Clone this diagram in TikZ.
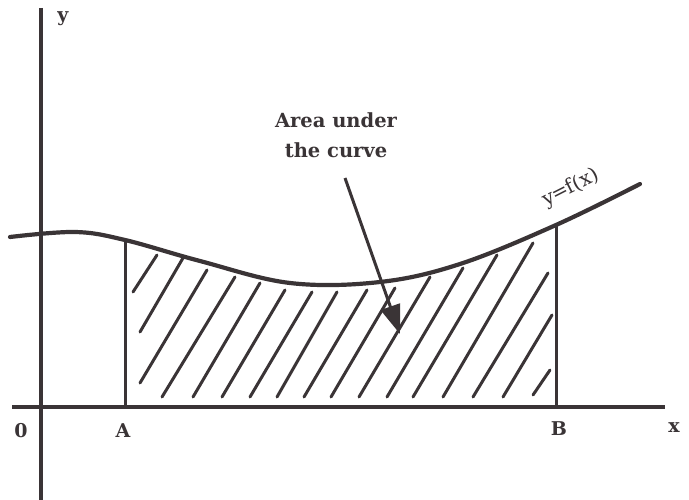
\documentclass[tikz,border=0pt]{standalone}
\usepackage{fontspec}
\setmainfont{DejaVu Serif}
\usetikzlibrary{arrows.meta}
\definecolor{ink}{RGB}{58,52,54}
\begin{document}
\begin{tikzpicture}[x=1pt,y=-1pt,
  axisline/.style={draw=ink,line width=3.4pt},
  curveline/.style={draw=ink,line width=4.2pt,line cap=round},
  hatchline/.style={draw=ink,line width=3pt,line cap=round},
  boundline/.style={draw=ink,line width=3pt},
  lab/.style={text=ink,font=\fontsize{19}{22}\selectfont\bfseries,inner sep=0pt,anchor=base},
  caption/.style={text=ink,font=\fontsize{19.5}{30}\selectfont\bfseries,inner sep=0pt,anchor=base},
  pointer/.style={draw=ink,line width=3pt,-{Triangle[length=29pt,width=20pt]}}
  ]
\useasboundingbox (0,0) rectangle (689,500);
% axes
\coordinate (ytop) at (41,8);
\coordinate (ybot) at (41,500);
\coordinate (xl) at (12,407);
\coordinate (xr) at (665,407);
\draw[axisline] (ytop) -- (ybot);
\draw[axisline] (xl) -- (xr);
% hatching
\foreach \ax/\ay/\bx/\by in {
  133/292/157/255, 140/332/183/258, 140/383/207/270,
  162/397/235/277, 193/397/260/283, 222/397/285/290,
  250/397/312/292, 277/397/337/292, 304/397/367/290,
  331/397/395/288, 359/397/430/277, 387/397/463/268,
  413/397/497/255, 443/397/533/243, 473/397/548/273,
  503/397/552/315, 533/395/550/370}{
  \draw[hatchline] (\ax,\ay) -- (\bx,\by);
}
% bounds A and B
\coordinate (atop) at (125,240);
\coordinate (abot) at (125,405);
\coordinate (btop) at (556,225);
\coordinate (bbot) at (556,407);
\draw[boundline] (atop) -- (abot);
\draw[boundline] (btop) -- (bbot);
% curve
\draw[curveline] plot[smooth,tension=0.6] coordinates {(10,237) (75,232) (125,240) (200,261) (290,283) (380,282) (460,264) (556,225) (640,184)};
% labels
\node[lab] (ylab) at (63,22) {y};
\node[lab] (xlab) at (674,432) {x};
\node[lab] (olab) at (21,437) {0};
\node[lab] (alab) at (123,437) {A};
\node[lab] (blab) at (559,435) {B};
\node[text=ink,font=\fontsize{20}{22}\selectfont,inner sep=0pt,rotate=27] (flab) at (571,188) {y\kern-1pt=\kern-1pt f(x)};
% caption and arrow
\node[caption] (cap1) at (336,128) {Area under};
\node[caption] (cap2) at (336,158) {the curve};
\coordinate (arrs) at (345,178);
\coordinate (arrt) at (400,334);
\draw[pointer] (arrs) -- (arrt);
\end{tikzpicture}
\end{document}
